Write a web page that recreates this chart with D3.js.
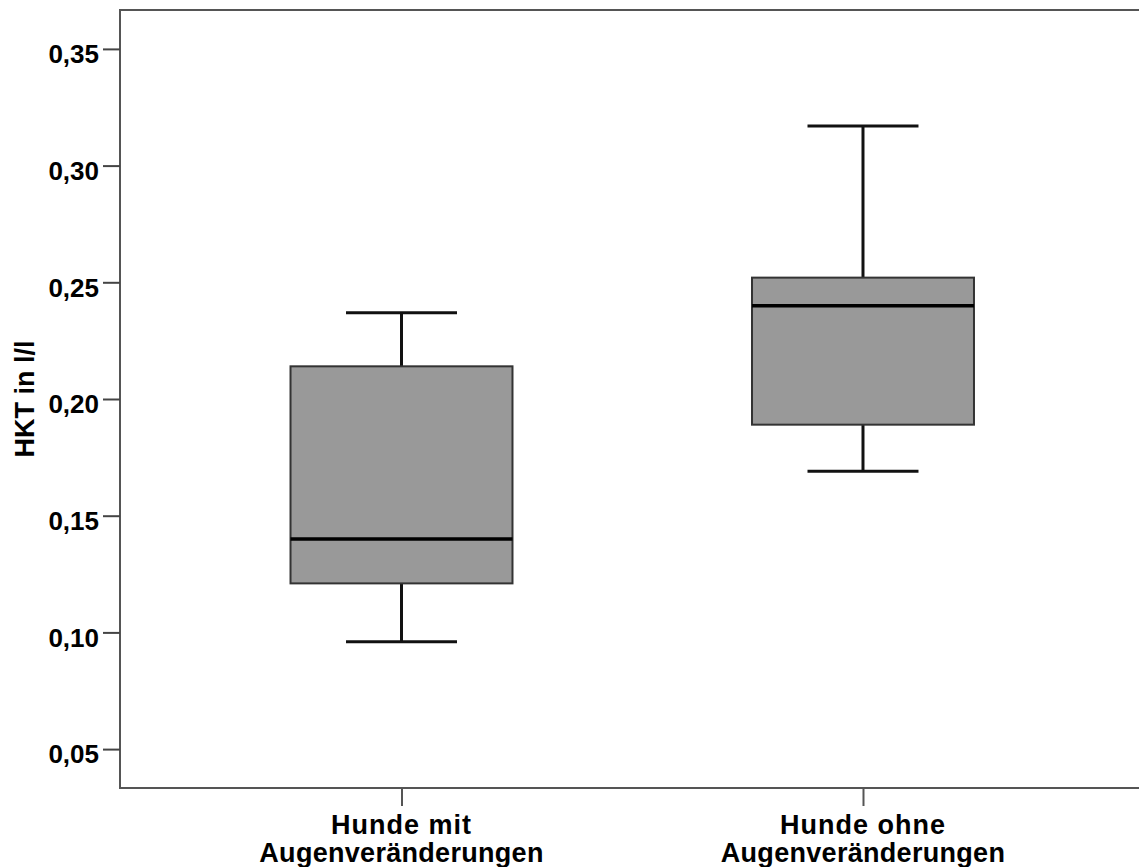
<!DOCTYPE html>
<html>
<head>
<meta charset="utf-8">
<script src="https://cdn.jsdelivr.net/npm/d3@7"></script>
<style>
	html, body {margin: 0; padding: 0; background: #fff;}
	svg {display: block;}
	text {font-family: "Liberation Sans", Arial, sans-serif; font-weight: bold; fill: #000;}
</style>
</head>
<body>
<svg id="chart" width="1139" height="867"></svg>
<script>
// groups (two lines per label)
const categories = ["Hunde mit\nAugenveränderungen", "Hunde ohne\nAugenveränderungen"];

// box statistics
const whiskerLow = [0.096, 0.169];
const quartile1 = [0.121, 0.189];
const medians = [0.140, 0.240];
const quartile3 = [0.214, 0.252];
const whiskerHigh = [0.237, 0.317];

const yTicks = [0.05, 0.10, 0.15, 0.20, 0.25, 0.30, 0.35];
const yTitle = "HKT in l/l";

const boxes = categories.map((c, i) => ({
	label: c,
	lo: whiskerLow[i],
	q1: quartile1[i],
	med: medians[i],
	q3: quartile3[i],
	hi: whiskerHigh[i]
}));

const svg = d3.select("#chart");

const plot = {left: 120, top: 10, right: 1144.5, bottom: 788};

const y = d3.scaleLinear()
.domain([1 / 30, 11 / 30])
.range([plot.bottom, plot.top]);

const x = d3.scalePoint()
.domain(categories)
.range([plot.left, plot.right])
.padding(0.61);

const boxWidth = x.step() * 0.481;
const capWidth = boxWidth / 2;

// frame (left, top, bottom)
svg.append("path")
.attr("d", `M${plot.right},${plot.top}H${plot.left}V${plot.bottom}H${plot.right}`)
.attr("fill", "none")
.attr("stroke", "#555")
.attr("stroke-width", 2);

// y axis
const yAxis = svg.append("g")
.attr("transform", `translate(${plot.left}, 0)`)
.call(d3.axisLeft(y)
	.tickValues(yTicks)
	.tickSize(17)
	.tickPadding(4)
	.tickFormat((d) => d3.format(".2f")(d).replace(".", ",")));

yAxis.select(".domain").remove();
yAxis.selectAll(".tick line").attr("stroke", "#444").attr("stroke-width", 2);
yAxis.selectAll(".tick text")
.attr("font-size", 26)
.attr("font-family", "Liberation Sans, Arial, sans-serif")
.attr("font-weight", "bold")
.attr("fill", "#000")
.attr("dy", "0.53em");

// x axis
const xAxis = svg.append("g")
.attr("transform", `translate(0, ${plot.bottom})`)
.call(d3.axisBottom(x).tickSize(18).tickFormat(""));

xAxis.select(".domain").remove();
xAxis.selectAll(".tick line").attr("stroke", "#555").attr("stroke-width", 2);

const xLabels = svg.append("g")
.selectAll("text")
.data(categories)
.enter()
.append("text")
.attr("text-anchor", "middle")
.attr("font-size", 27)
.attr("transform", (d) => `translate(${x(d)}, 834)`);

xLabels.selectAll("tspan")
.data((d) => d.split("\n"))
.enter()
.append("tspan")
.attr("x", 0)
.attr("y", (d, i) => i * 28)
.attr("letter-spacing", (d, i) => (i === 0 ? 1 : 0.3))
.text((d) => d);

// y title
svg.append("text")
.attr("transform", `translate(34, ${(plot.top + plot.bottom) / 2}) rotate(-90)`)
.attr("text-anchor", "middle")
.attr("font-size", 27)
.text(yTitle);

// boxes
const box = svg.append("g")
.selectAll(".box")
.data(boxes)
.enter()
.append("g")
.attr("class", "box")
.attr("transform", (d) => `translate(${x(d.label)}, 0)`);

box.append("line")
.attr("x1", 0)
.attr("x2", 0)
.attr("y1", (d) => y(d.hi))
.attr("y2", (d) => y(d.q3))
.attr("stroke", "#111")
.attr("stroke-width", 3);

box.append("line")
.attr("x1", 0)
.attr("x2", 0)
.attr("y1", (d) => y(d.q1))
.attr("y2", (d) => y(d.lo))
.attr("stroke", "#111")
.attr("stroke-width", 3);

box.selectAll(".cap")
.data((d) => [d.hi, d.lo])
.enter()
.append("line")
.attr("class", "cap")
.attr("x1", -capWidth / 2)
.attr("x2", capWidth / 2)
.attr("y1", (d) => y(d))
.attr("y2", (d) => y(d))
.attr("stroke", "#111")
.attr("stroke-width", 3);

box.append("rect")
.attr("x", -boxWidth / 2)
.attr("width", boxWidth)
.attr("y", (d) => y(d.q3))
.attr("height", (d) => y(d.q1) - y(d.q3))
.attr("fill", "#999")
.attr("stroke", "#333")
.attr("stroke-width", 2);

box.append("line")
.attr("x1", -boxWidth / 2)
.attr("x2", boxWidth / 2)
.attr("y1", (d) => y(d.med))
.attr("y2", (d) => y(d.med))
.attr("stroke", "#000")
.attr("stroke-width", 3.5);
</script>
</body>
</html>
